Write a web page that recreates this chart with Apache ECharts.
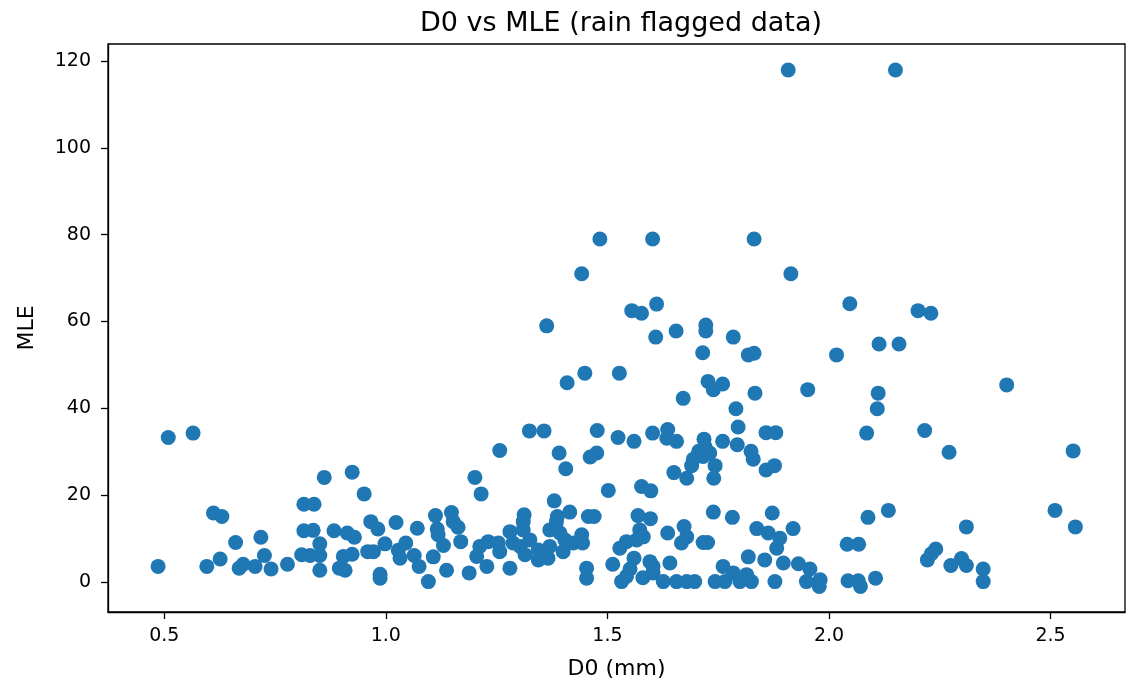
<!DOCTYPE html>
<html>
<head>
<meta charset="utf-8">
<script src="https://cdn.jsdelivr.net/npm/echarts@6/dist/echarts.min.js"></script>
<style>
html,body{margin:0;padding:0;background:#fff;}
#c{width:1132px;height:685px;}
</style>
</head>
<body>
<div id="c"></div>
<script>
const d0 = [
0.486,0.509,0.565,0.596,0.611,0.630,0.626,0.661,0.669,0.678,
0.705,0.718,0.726,0.741,0.778,0.815,0.838,0.815,0.836,0.851,
0.810,0.829,0.851,0.851,0.861,0.883,0.913,0.929,0.895,0.908,
0.904,0.924,0.924,0.951,0.966,0.982,0.959,0.972,0.998,0.987,
0.987,1.023,1.071,1.045,1.028,1.032,1.064,1.075,1.096,1.107,
1.137,1.112,1.148,1.116,1.118,1.152,1.163,1.130,1.169,1.201,
1.215,1.257,1.188,1.228,1.205,1.212,1.231,1.254,1.257,1.280,
1.280,1.287,1.303,1.310,1.310,1.312,1.314,1.325,1.344,1.344,
1.366,1.370,1.370,1.385,1.393,1.404,1.400,1.423,1.442,1.444,
1.380,1.387,1.415,1.457,1.470,1.453,1.453,1.324,1.357,1.363,
1.391,1.406,1.409,1.442,1.449,1.461,1.476,1.477,1.483,1.502,
1.524,1.527,1.512,1.528,1.532,1.543,1.543,1.551,1.555,1.560,
1.560,1.566,1.569,1.573,1.577,1.577,1.581,1.580,1.596,1.597,
1.598,1.602,1.602,1.603,1.603,1.609,1.611,1.626,1.634,1.636,
1.636,1.641,1.650,1.655,1.656,1.656,1.667,1.671,1.673,1.679,
1.679,1.679,1.690,1.694,1.697,1.706,1.715,1.716,1.716,1.718,
1.720,1.722,1.722,1.726,1.727,1.731,1.739,1.739,1.740,1.743,
1.743,1.760,1.760,1.761,1.765,1.782,1.784,1.784,1.790,1.793,
1.795,1.799,1.814,1.818,1.818,1.824,1.825,1.829,1.831,1.831,
1.833,1.837,1.855,1.858,1.858,1.863,1.872,1.877,1.878,1.880,
1.882,1.889,1.897,1.908,1.914,1.919,1.931,1.949,1.952,1.957,
1.980,1.978,2.017,2.041,2.043,2.047,2.066,2.067,2.071,2.085,
2.088,2.105,2.109,2.111,2.113,2.134,2.150,2.158,2.201,2.216,
2.222,2.230,2.231,2.241,2.271,2.275,2.299,2.310,2.310,2.348,
2.348,2.401,2.510,2.551,2.556
];
const mle = [
3.6,33.3,34.3,3.6,15.9,15.1,5.3,9.1,3.2,4.1,
3.6,10.3,6.1,3.0,4.1,17.9,17.9,11.8,11.9,8.8,
6.3,6.1,6.1,2.7,24.1,11.8,11.3,10.3,3.2,2.7,
5.9,6.4,25.3,20.3,13.9,12.2,7.0,7.0,8.8,1.8,
0.9,13.7,12.4,9.0,7.3,5.5,6.1,3.6,0.1,5.8,
2.7,15.3,16.0,12.2,10.9,13.9,12.6,8.4,9.3,24.1,
20.3,30.3,2.1,3.6,5.9,8.2,9.3,9.0,7.0,3.2,
11.6,9.0,8.2,13.9,12.0,15.5,6.3,9.7,5.1,7.4,
5.5,8.2,12.0,13.9,11.3,9.7,7.0,9.0,10.9,9.0,
18.7,15.1,16.1,15.1,15.1,3.2,0.9,34.8,34.8,59.0,
29.7,26.1,45.9,71.0,48.1,28.8,29.7,34.9,79.0,21.1,
33.3,48.1,4.1,7.8,0.1,1.3,9.3,3.0,62.5,32.4,
5.5,9.7,15.3,12.0,61.9,22.0,10.4,1.0,4.7,14.6,
21.0,79.0,34.3,3.6,2.1,56.4,64.0,0.1,33.1,35.1,
11.3,4.4,25.2,57.8,32.4,0.1,9.0,42.3,12.8,23.9,
10.4,0.1,26.8,28.3,0.1,30.1,52.8,28.9,9.1,32.9,
31.2,59.2,57.8,9.1,46.2,29.7,44.3,16.1,23.9,26.8,
0.1,45.6,32.4,3.6,0.1,14.9,56.4,2.1,39.9,31.6,
35.7,0.1,1.7,52.3,5.8,30.1,0.1,28.3,79.0,52.7,
43.5,12.3,5.1,34.4,25.8,11.3,15.9,26.8,0.1,34.4,
7.8,10.1,4.4,117.9,71.0,12.3,4.2,0.1,44.3,3.0,
0.5,-1.0,52.3,8.7,0.3,64.1,0.3,8.7,-1.0,34.3,
14.9,0.9,39.9,43.5,54.8,16.5,117.9,54.8,62.5,34.9,
5.1,61.9,6.5,7.6,29.9,3.8,5.4,12.7,3.8,3.0,
0.1,45.4,16.5,30.2,12.7
];
const xTicks = [0.5, 1.0, 1.5, 2.0, 2.5];
const yTicks = [0, 20, 40, 60, 80, 100, 120];

const points = d0.map((x, i) => [x, mle[i]]);
const font = 'DejaVu Sans';
const chart = echarts.init(document.getElementById('c'), null, {renderer: 'canvas'});
chart.setOption({
  backgroundColor: '#fff',
  animation: false,
  title: {
    text: 'D0 vs MLE (rain flagged data)',
    left: 616, top: 5, textAlign: 'center',
    textStyle: {fontFamily: font, fontSize: 27, fontWeight: 'normal', color: '#000'}
  },
  grid: {left: 108, right: 7, top: 44, bottom: 73, show: true, borderColor: '#000', borderWidth: 1.3, backgroundColor: 'transparent'},
  xAxis: {
    type: 'value', min: 0.373, max: 2.668,
    name: 'D0 (mm)', nameLocation: 'middle', nameGap: 46,
    nameTextStyle: {fontFamily: font, fontSize: 22, color: '#000'},
    axisLine: {show: true, onZero: false, lineStyle: {color: '#000', width: 1.3}},
    axisTick: {show: true, length: 7, lineStyle: {color: '#000', width: 1.3}, customValues: xTicks},
    axisLabel: {fontFamily: font, fontSize: 19, color: '#000', margin: 15, customValues: xTicks, formatter: v => v.toFixed(1)},
    splitLine: {show: false}
  },
  yAxis: {
    type: 'value', min: -6.9, max: 123.9,
    name: 'MLE', nameLocation: 'middle', nameGap: 70, nameRotate: 90,
    nameTextStyle: {fontFamily: font, fontSize: 22, color: '#000'},
    axisLine: {show: true, onZero: false, lineStyle: {color: '#000', width: 1.3}},
    axisTick: {show: true, length: 7, lineStyle: {color: '#000', width: 1.3}, customValues: yTicks},
    axisLabel: {fontFamily: font, fontSize: 19, color: '#000', margin: 17, customValues: yTicks, formatter: v => String(v)},
    splitLine: {show: false}
  },
  series: [{
    type: 'scatter',
    data: points,
    symbol: 'circle',
    symbolSize: 15,
    itemStyle: {color: '#1f77b4', opacity: 1},
    clip: true
  }]
});
</script>
</body>
</html>
